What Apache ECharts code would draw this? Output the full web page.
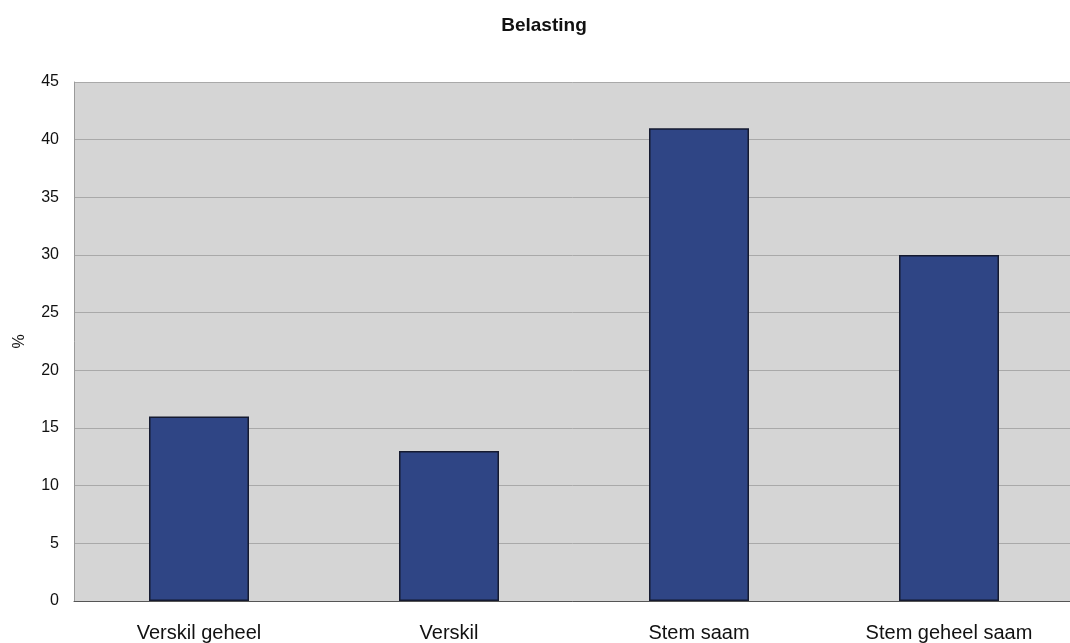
<!DOCTYPE html>
<html>
<head>
<meta charset="utf-8">
<script src="https://cdn.jsdelivr.net/npm/echarts@6/dist/echarts.min.js"></script>
<style>
  html, body { margin: 0; padding: 0; background: #ffffff; }
  #chart { width: 1070px; height: 643px; }
</style>
</head>
<body>
<div id="chart"></div>
<script>
// Survey responses on taxation (percent)
const categories = ['Verskil geheel', 'Verskil', 'Stem saam', 'Stem geheel saam'];
const percentages = [16, 13, 41, 30];
const yTicks = [0, 5, 10, 15, 20, 25, 30, 35, 40, 45];

const chart = echarts.init(document.getElementById('chart'));
chart.setOption({
  backgroundColor: '#ffffff',
  animation: false,
  title: {
    text: 'Belasting',
    left: 539,
    top: 11,
    textAlign: 'center',
    textStyle: { fontFamily: 'Liberation Sans, Arial, sans-serif', fontSize: 19, fontWeight: 'bold', color: '#111' }
  },
  grid: {
    left: 74,
    top: 82,
    width: 1000,
    height: 519,
    outerBoundsMode: 'none',
    containLabel: false,
    show: true,
    backgroundColor: '#d5d5d5',
    borderWidth: 0
  },
  xAxis: {
    type: 'category',
    data: categories,
    axisTick: { show: false },
    axisLine: { show: true, lineStyle: { color: '#555', width: 1 } },
    axisLabel: {
      margin: 22,
      fontFamily: 'Liberation Sans, Arial, sans-serif',
      fontSize: 20,
      color: '#111'
    }
  },
  yAxis: {
    type: 'value',
    min: yTicks[0],
    max: yTicks[yTicks.length - 1],
    interval: 5,
    name: '%',
    nameLocation: 'middle',
    nameGap: 46,
    nameRotate: 90,
    nameTextStyle: { fontFamily: 'Liberation Sans, Arial, sans-serif', fontSize: 16, color: '#111' },
    axisLine: { show: true, lineStyle: { color: '#9a9a9a', width: 1 } },
    axisTick: { show: false },
    axisLabel: {
      margin: 15,
      fontFamily: 'Liberation Sans, Arial, sans-serif',
      fontSize: 16,
      color: '#111'
    },
    splitLine: { show: true, lineStyle: { color: '#a9a9a9', width: 1 } }
  },
  series: [{
    type: 'bar',
    data: percentages,
    barWidth: 100,
    itemStyle: {
      color: '#2f4585',
      borderColor: '#151a30',
      borderWidth: 1.5
    }
  }]
});
</script>
</body>
</html>
